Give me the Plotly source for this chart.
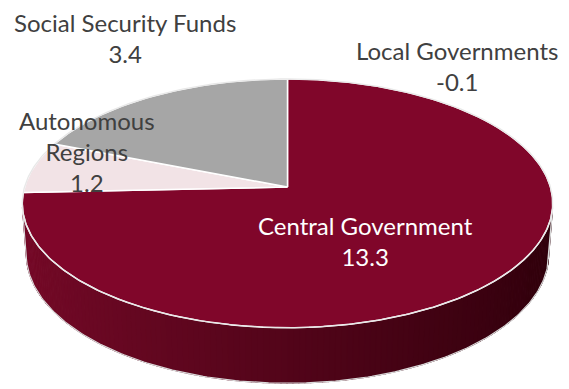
import numpy as np
import plotly.graph_objects as go

# Contributions by sub-sector
categories = ["Local Governments", "Central Government", "Autonomous Regions", "Social Security Funds"]
values = [-0.1, 13.3, 1.2, 3.4]
value_labels = ["-0.1", "13.3", "1.2", "3.4"]
slice_colors = ["#80062A", "#80062A", "#F2E3E6", "#A6A6A6"]
text_colors = ["#404040", "#FFFFFF", "#404040", "#404040"]
label_lines = [["Local Governments"], ["Central Government"], ["Autonomous", "Regions"], ["Social Security Funds"]]
label_pos = [(457, 66), (365, 241), (87, 151), (125, 38)]

W, H_PX = 569, 389

# perspective view of a flat cylinder (unit radius)
TILT = np.radians(27.7)
DIST = 6.75
SCALE = 1775.0
CX, CY = 287.5, 187.0
THICK = 0.22


def project(a_deg, z):
    a = np.radians(a_deg)
    X, Y, Z = np.sin(a), np.cos(a), z
    depth = Y * np.cos(TILT) - Z * np.sin(TILT) + DIST
    u = X / depth * SCALE
    v = (Y * np.sin(TILT) + Z * np.cos(TILT)) / depth * SCALE
    return CX + u, CY - v


sizes = np.clip(np.array(values, dtype=float), 0, None)
angles = np.concatenate([[0.0], np.cumsum(sizes / sizes.sum() * 360.0)])

fig = go.Figure()

# visible side wall (normal facing the camera)
lim = np.degrees(np.arccos(-1.0 / (DIST * np.cos(TILT))))
side_lo, side_hi = lim, 360.0 - lim
light = np.array([118, 10, 40])
dark = np.array([48, 0, 12])
n_strips = 140
edges = np.linspace(side_lo, side_hi, n_strips + 1)
for i in range(n_strips):
    a0, a1 = edges[i], edges[i + 1]
    mid = np.radians((a0 + a1) / 2)
    k = np.searchsorted(angles, (a0 + a1) / 2) - 1
    t = (1 - np.sin(mid)) / 2  # 1 on the left, 0 on the right
    shade = dark + (light - dark) * t
    shade = np.clip(shade, 0, 255).astype(int)
    col = "rgb(%d,%d,%d)" % tuple(shade)
    aa = np.linspace(a0, a1 + 0.2, 3)
    xt, yt = project(aa, 0.0)
    xb, yb = project(aa[::-1], -THICK)
    fig.add_trace(go.Scatter(
        x=np.concatenate([xt, xb, xt[:1]]), y=np.concatenate([yt, yb, yt[:1]]),
        mode="lines", fill="toself", fillcolor=col,
        line=dict(color=col, width=0.8), hoverinfo="skip", showlegend=False))

# outline of the wall
aa = np.linspace(side_lo, side_hi, 200)
xb, yb = project(aa, -THICK)
xl, yl = project(np.array([side_hi, side_hi]), np.array([0.0, -THICK]))
xr, yr = project(np.array([side_lo, side_lo]), np.array([0.0, -THICK]))
fig.add_trace(go.Scatter(
    x=np.concatenate([xr[::-1], xb, xl[::-1]]), y=np.concatenate([yr[::-1], yb, yl[::-1]]),
    mode="lines", line=dict(color="#D9D9D9", width=1.2), hoverinfo="skip", showlegend=False))

# top face slices
for k, cat in enumerate(categories):
    a0, a1 = angles[k], angles[k + 1]
    if a1 - a0 <= 0:
        continue
    aa = np.linspace(a0, a1, max(int((a1 - a0) * 2), 8))
    xs, ys = project(aa, 0.0)
    fig.add_trace(go.Scatter(
        x=np.concatenate([[CX], xs, [CX]]), y=np.concatenate([[CY], ys, [CY]]),
        mode="lines", fill="toself", fillcolor=slice_colors[k],
        line=dict(color="#FFFFFF", width=1.5), hoverinfo="skip", showlegend=False, name=cat))

# rim highlight on the top face
aa = np.linspace(0, 360, 400)
xs, ys = project(aa, 0.0)
fig.add_trace(go.Scatter(x=xs, y=ys, mode="lines", line=dict(color="#E8E8E8", width=1.3),
                         hoverinfo="skip", showlegend=False))

# data labels
for k in range(len(categories)):
    lx, ly = label_pos[k]
    txt = "<br>".join(label_lines[k] + [value_labels[k]])
    fig.add_annotation(x=lx, y=ly, text=txt, showarrow=False, xanchor="center", yanchor="middle",
                       font=dict(family="Lato", size=24, color=text_colors[k]), align="center")

fig.update_layout(
    width=W, height=H_PX, margin=dict(l=0, r=0, t=0, b=0),
    paper_bgcolor="white", plot_bgcolor="white",
    xaxis=dict(range=[0, W], visible=False, fixedrange=True),
    yaxis=dict(range=[H_PX, 0], visible=False, fixedrange=True),
)
fig.write_html("out.html")
